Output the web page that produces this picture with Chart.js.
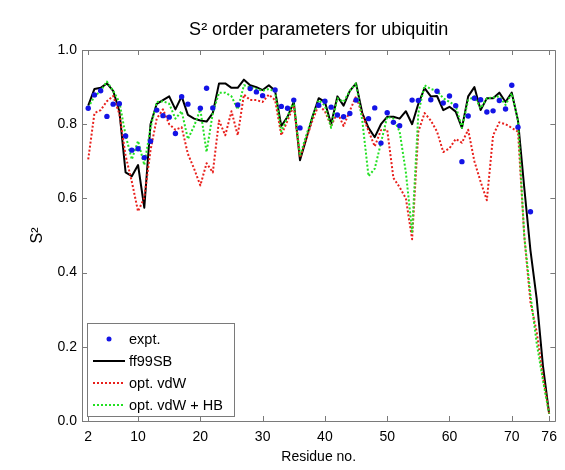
<!DOCTYPE html>
<html>
<head>
<meta charset="utf-8">
<script src="https://cdn.jsdelivr.net/npm/chart.js@4.4.1/dist/chart.umd.min.js"></script>
<style>
  html, body { margin: 0; padding: 0; background: #ffffff; }
  #wrap { width: 565px; height: 470px; }
</style>
</head>
<body>
<div id="wrap"><canvas id="c" width="565" height="470"></canvas></div>
<script>
// ---- data ----
const residues = [2,3,4,5,6,7,8,9,10,11,12,13,14,15,16,17,18,19,20,21,22,23,24,25,26,27,28,29,30,31,32,33,34,35,36,37,38,39,40,41,42,43,44,45,46,47,48,49,50,51,52,53,54,55,56,57,58,59,60,61,62,63,64,65,66,67,68,69,70,71,72,73,74,75,76];

const expt = [0.843,0.879,0.890,0.821,0.854,0.855,0.768,0.730,0.734,0.710,
              0.754,0.838,0.823,0.819,0.775,0.874,0.854,null,0.843,0.897,
              0.844,null,null,null,0.852,null,0.896,0.887,0.877,null,
              0.892,0.848,0.843,0.865,0.790,null,null,0.851,0.862,0.846,
              0.825,0.820,0.829,0.865,null,0.815,0.844,0.749,0.831,0.805,
              0.796,null,0.865,0.864,null,0.866,0.889,0.857,0.876,0.850,
              0.699,0.822,0.870,0.866,0.833,0.836,0.864,0.841,0.905,0.792,
              null,0.564,null,null,null];

const ff99SB = [0.850,0.895,0.898,0.910,0.890,0.835,0.670,0.660,0.690,0.575,
                0.800,0.855,0.865,0.875,0.840,0.875,0.825,0.815,0.810,0.807,
                0.830,0.910,0.910,0.898,0.898,0.920,0.905,0.900,0.892,0.905,
                0.890,0.795,0.820,0.860,0.703,0.760,0.820,0.870,0.860,0.800,
                0.875,0.850,0.890,0.910,0.830,0.790,0.765,0.800,0.820,0.820,
                0.815,0.835,0.800,0.855,0.897,0.875,0.876,0.838,0.847,0.834,
                0.790,0.875,0.900,0.838,0.870,0.870,0.885,0.860,0.885,0.810,
                0.630,0.460,0.330,0.150,0.020];

const optVdW = [0.705,0.830,0.838,0.862,0.876,0.828,0.715,0.645,0.565,0.602,
                0.730,0.815,0.840,0.800,0.785,0.792,0.720,0.680,0.635,0.695,
                0.670,0.810,0.770,0.835,0.770,0.880,0.865,0.865,0.860,0.880,
                0.865,0.770,0.810,0.850,0.710,0.760,0.810,0.852,0.835,0.795,
                0.832,0.795,0.836,0.875,0.826,0.782,0.740,0.784,0.785,0.655,
                0.630,0.600,0.490,0.780,0.830,0.810,0.780,0.725,0.735,0.760,
                0.750,0.785,0.700,0.645,0.595,0.770,0.805,0.800,0.790,0.780,
                0.500,0.320,0.240,0.120,0.020];

const optVdWHB = [0.845,0.875,0.890,0.915,0.890,0.860,0.770,0.705,0.755,0.690,
                  0.790,0.860,0.862,0.855,0.815,0.835,0.760,0.795,0.840,0.725,
                  0.830,0.885,0.885,0.875,0.840,0.905,0.900,0.895,0.890,0.895,
                  0.888,0.780,0.820,0.860,0.715,0.770,0.820,0.865,0.850,0.790,
                  0.870,0.860,0.890,0.910,0.810,0.660,0.680,0.750,0.820,0.815,
                  0.780,0.670,0.510,0.830,0.905,0.895,0.890,0.870,0.860,0.850,
                  0.790,0.865,0.875,0.843,0.870,0.872,0.875,0.852,0.883,0.810,
                  0.500,0.340,0.210,0.110,0.020];

const xTicks = [2,10,20,30,40,50,60,70,76];
const yTicks = [0,0.2,0.4,0.6,0.8,1.0];
const seriesNames = ["expt.", "ff99SB", "opt. vdW", "opt. vdW + HB"];
const titleText = "S\u00B2 order parameters for ubiquitin";
const xTitle = "Residue no.";
const yTitle = "S\u00B2";

// ---- build ----
const pts = arr => residues.map((r, i) => ({x: r, y: arr[i]}));
const FONT = "'Liberation Sans', Arial, sans-serif";

const framePlugin = {
  id: 'frame',
  afterDraw(chart) {
    const ctx = chart.ctx;
    const {left, right, top, bottom} = chart.chartArea;
    const xs = chart.scales.x, ys = chart.scales.y;
    ctx.save();
    ctx.strokeStyle = '#7a7a7a';
    ctx.lineWidth = 1;
    ctx.beginPath();
    ctx.rect(Math.round(left) + 0.5, Math.round(top) + 0.5, Math.round(right - left), Math.round(bottom - top));
    ctx.stroke();
    ctx.beginPath();
    xTicks.forEach(v => {
      const px = Math.round(xs.getPixelForValue(v)) + 0.5;
      ctx.moveTo(px, bottom); ctx.lineTo(px, bottom - 5);
      ctx.moveTo(px, top); ctx.lineTo(px, top + 5);
    });
    yTicks.forEach(v => {
      const py = Math.round(ys.getPixelForValue(v)) + 0.5;
      ctx.moveTo(left, py); ctx.lineTo(left + 5, py);
      ctx.moveTo(right, py); ctx.lineTo(right - 5, py);
    });
    ctx.stroke();

    // titles
    ctx.fillStyle = '#000';
    ctx.textAlign = 'center';
    ctx.textBaseline = 'middle';
    ctx.font = '18px ' + FONT;
    ctx.fillText(titleText, (left + right) / 2, 30);
    ctx.font = '14px ' + FONT;
    ctx.fillText(xTitle, (left + right) / 2, 457);
    ctx.save();
    ctx.translate(38, (top + bottom) / 2);
    ctx.rotate(-Math.PI / 2);
    ctx.font = '16px ' + FONT;
    ctx.fillText(yTitle, 0, 0);
    ctx.restore();

    // legend
    const bx = left + 5, by = bottom - 98, bw = 147, bh = 93;
    ctx.fillStyle = '#fff';
    ctx.fillRect(bx, by, bw, bh);
    ctx.strokeStyle = '#7a7a7a';
    ctx.strokeRect(Math.round(bx) + 0.5, Math.round(by) + 0.5, bw, bh);
    const ds = chart.data.datasets;
    const rows = [by + 16, by + 38, by + 60, by + 82];
    ctx.font = '14.5px ' + FONT;
    ctx.textAlign = 'left';
    ds.forEach((d, i) => {
      const yy = rows[i];
      if (i === 0) {
        ctx.fillStyle = d.pointBackgroundColor;
        ctx.beginPath();
        ctx.arc(bx + 22, yy, 2.5, 0, Math.PI * 2);
        ctx.fill();
      } else {
        ctx.strokeStyle = d.borderColor;
        ctx.lineWidth = d.borderWidth;
        ctx.setLineDash(d.borderDash || []);
        ctx.beginPath();
        ctx.moveTo(bx + 6, yy); ctx.lineTo(bx + 38, yy);
        ctx.stroke();
        ctx.setLineDash([]);
      }
      ctx.fillStyle = '#000';
      ctx.fillText(d.label, bx + 42, yy + 1);
    });
    ctx.restore();
  }
};

new Chart(document.getElementById('c'), {
  type: 'line',
  data: {
    datasets: [
      { label: seriesNames[0], data: pts(expt), showLine: false,
        pointRadius: 2.7, pointBackgroundColor: '#1414e6', pointBorderWidth: 0,
        borderColor: '#1414e6', order: 0 },
      { label: seriesNames[1], data: pts(ff99SB), borderColor: '#000000',
        borderWidth: 2, pointRadius: 0, tension: 0, borderJoinStyle: 'round', order: 3 },
      { label: seriesNames[2], data: pts(optVdW), borderColor: '#e8201c',
        borderWidth: 2, borderDash: [2, 2], pointRadius: 0, tension: 0, borderJoinStyle: 'round', order: 2 },
      { label: seriesNames[3], data: pts(optVdWHB), borderColor: '#22e022',
        borderWidth: 2, borderDash: [2, 2], pointRadius: 0, tension: 0, borderJoinStyle: 'round', order: 1 }
    ]
  },
  options: {
    responsive: false,
    animation: false,
    devicePixelRatio: 1,
    layout: { padding: { top: 50, right: 6, left: 0, bottom: 0 } },
    plugins: { legend: { display: false }, tooltip: { enabled: false }, title: { display: false } },
    scales: {
      x: {
        type: 'linear', min: 1, max: 77,
        grid: { display: false, drawTicks: false },
        border: { display: false },
        ticks: { color: '#000', font: { size: 14, family: FONT }, padding: 8, autoSkip: false, maxRotation: 0 },
        afterBuildTicks: s => { s.ticks = xTicks.map(v => ({ value: v })); },
        afterFit: s => { s.height = 49; }
      },
      y: {
        min: 0, max: 1,
        grid: { display: false, drawTicks: false },
        border: { display: false },
        ticks: { color: '#000', font: { size: 14, family: FONT }, padding: 5,
                 callback: v => Number(v).toFixed(1) },
        afterBuildTicks: s => { s.ticks = yTicks.map(v => ({ value: v })); },
        afterFit: s => { s.width = 82; }
      }
    }
  },
  plugins: [framePlugin]
});
</script>
</body>
</html>
